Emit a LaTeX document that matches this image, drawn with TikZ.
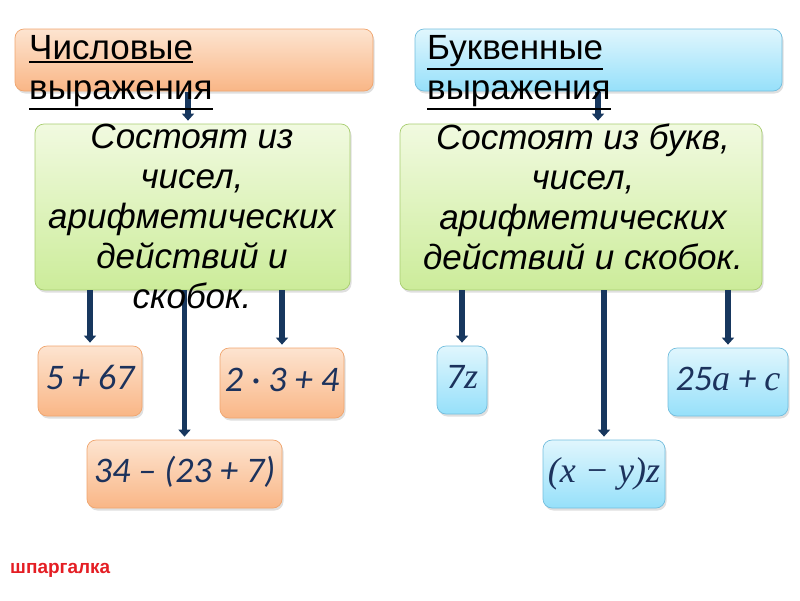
\documentclass[tikz,border=0pt]{standalone}
\usepackage{fontspec}
\setmainfont{Liberation Sans}
\newfontfamily\calfont{Carlito}
\newfontfamily\serfont{Liberation Serif}
\usepackage{tikz}
\usetikzlibrary{arrows.meta,shadows}

\definecolor{navy}{RGB}{23,55,94}
\definecolor{exprblue}{RGB}{28,50,92}
\definecolor{orangetop}{RGB}{253,228,208}
\definecolor{orangebot}{RGB}{249,182,134}
\definecolor{orangeline}{RGB}{240,165,110}
\definecolor{bluetop}{RGB}{224,246,253}
\definecolor{bluebot}{RGB}{150,224,250}
\definecolor{blueline}{RGB}{115,190,222}
\definecolor{greentop}{RGB}{241,250,224}
\definecolor{greenbot}{RGB}{204,236,154}
\definecolor{greenline}{RGB}{168,205,112}
\definecolor{notered}{RGB}{228,30,36}

\tikzset{
    box/.style={rounded corners=9pt, draw, line width=0.7pt, inner sep=0pt,
        drop shadow={opacity=0.25, shadow xshift=1.5pt, shadow yshift=-2.5pt}},
    orangebox/.style={box, draw=orangeline, top color=orangetop, bottom color=orangebot},
    bluebox/.style={box, draw=blueline, top color=bluetop, bottom color=bluebot},
    greenbox/.style={box, draw=greenline, top color=greentop, bottom color=greenbot},
    hdrtext/.style={font=\fontsize{35}{40}\selectfont, align=left, inner sep=0pt, anchor=north west},
    grntext/.style={font=\fontsize{35}{40}\selectfont\itshape, align=center, inner sep=0pt, anchor=north},
    exprtext/.style={font=\fontsize{36}{40}\selectfont\calfont\itshape, text=exprblue,
        text height=24pt, text depth=8pt},
    link/.style={draw=navy, line width=5.5pt, shorten >=3pt, -{Triangle[width=12pt,length=7pt]}}
}

\newcommand{\var}[1]{{\serfont\itshape #1}}
\newcommand{\hdrline}[1]{\leavevmode\vtop{\hbox{#1}\kern1pt\hrule height 2pt}}

\begin{document}
\begin{tikzpicture}[x=1pt,y=-1pt]
    \useasboundingbox (0,0) rectangle (800,600);

    \node[orangebox, minimum width=358pt, minimum height=62pt] (hdrL) at (194,60) {};
    \node[bluebox, minimum width=367pt, minimum height=62pt] (hdrR) at (598.5,60) {};
    \node[greenbox, minimum width=315pt, minimum height=166pt] (grnL) at (192.5,207) {};
    \node[greenbox, minimum width=362pt, minimum height=166pt] (grnR) at (581,207) {};

    \node[orangebox, exprtext, minimum width=104pt, minimum height=70pt] (exA) at (90,381) {5 + 67};
    \node[orangebox, exprtext, minimum width=124pt, minimum height=70pt] (exB) at (282,383) {2 · 3 + 4};
    \node[orangebox, exprtext, minimum width=195pt, minimum height=68pt] (exC) at (184.5,474) {34 – (23 + 7)};
    \node[bluebox, exprtext, minimum width=50pt, minimum height=68pt] (exD) at (462,380) {7\var{z}};
    \node[bluebox, exprtext, minimum width=120pt, minimum height=68pt] (exE) at (728,382) {25\var{a} + \var{c}};
    \node[bluebox, exprtext, minimum width=122pt, minimum height=68pt] (exF) at (604,474) {\var{(x − y)z}};

    \coordinate (topL) at (188,92);
    \coordinate (topR) at (598,92);

    \draw[link] (topL) -- (topL |- grnL.north);
    \draw[link] (topR) -- (topR |- grnR.north);
    \draw[link] (exA.north |- grnL.south) -- (exA.north);
    \draw[link] (exC.north |- grnL.south) -- (exC.north);
    \draw[link] (exB.north |- grnL.south) -- (exB.north);
    \draw[link] (exD.north |- grnR.south) -- (exD.north);
    \draw[link] (exF.north |- grnR.south) -- (exF.north);
    \draw[link] (exE.north |- grnR.south) -- (exE.north);

    \node[hdrtext] (hdrLtxt) at (29,35) {\hdrline{Числовые}\\\hdrline{выражения}};
    \node[hdrtext] (hdrRtxt) at (427,35) {\hdrline{Буквенные}\\\hdrline{выражения}};
    \node[grntext] (grnLtxt) at (192,124) {Состоят из\\чисел,\\арифметических\\действий и\\скобок.};
    \node[grntext] (grnRtxt) at (583,124) {Состоят из букв,\\чисел,\\арифметических\\действий и скобок.};

    \node[anchor=west, inner sep=0pt, text=notered, font=\fontsize{19}{21}\selectfont\bfseries] (note) at (10,570) {шпаргалка};
\end{tikzpicture}
\end{document}
